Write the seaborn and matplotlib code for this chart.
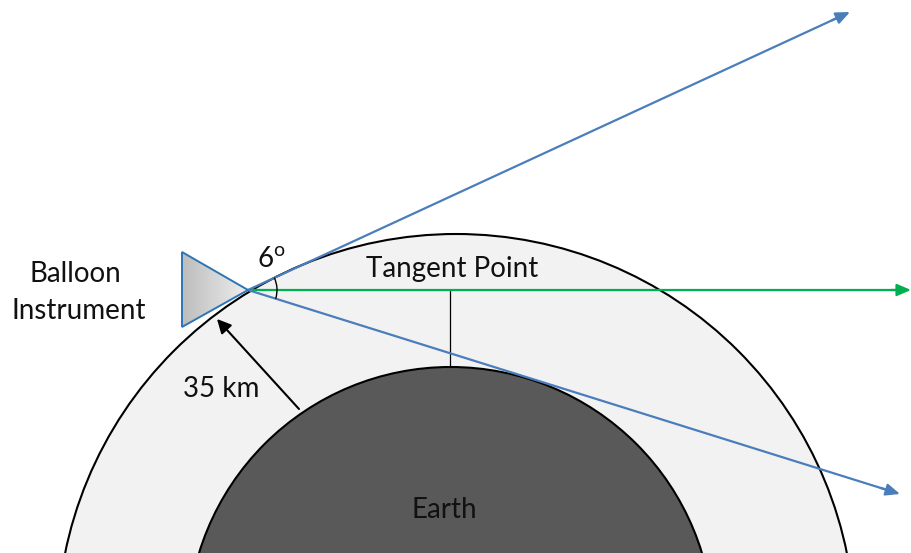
import numpy as np
import pandas as pd
import matplotlib.pyplot as plt
import seaborn as sns
from matplotlib.patches import Circle, Polygon, Arc

# everything in pixels
W, H = 911, 553
APEX = (248, 290)

OUTER_CENTER = (456, 633)
OUTER_RADIUS = 399
EARTH_CENTER = (450.5, 630)
EARTH_RADIUS = 263

TRIANGLE_X = [182, 182, 248]
TRIANGLE_Y = [252, 327, 290]

RAY_NAMES = ["upper", "middle", "lower"]
RAY_END_X = [850, 911, 900]
RAY_END_Y = [12, 290, 494]
RAY_COLORS = {"upper": "#4A7EBB", "middle": "#00B050", "lower": "#4A7EBB"}

TANGENT_X = [450, 450]
TANGENT_Y = [290, 367]
ARROW_START = (299, 409)
ARROW_END = (217, 319)

LABELS = ["Balloon", "Instrument", "6$^{\\mathrm{o}}$", "Tangent Point", "35 km", "Earth"]
LABEL_X = [75, 79, 271, 452, 221, 444]
LABEL_Y = [282, 319, 268, 277, 397, 518]
LABEL_SIZE = 20

sns.set_theme(style="white")
plt.rcParams["font.family"] = ["Lato", "DejaVu Sans"]
plt.rcParams["mathtext.fontset"] = "custom"
plt.rcParams["mathtext.rm"] = "Lato"

fig = plt.figure(figsize=(W / 100, H / 100), dpi=100)
ax = fig.add_axes([0, 0, 1, 1])

ax.add_patch(Circle(OUTER_CENTER, OUTER_RADIUS, fc="#F2F2F2", ec="black", lw=1.5, zorder=1))
ax.add_patch(Circle(EARTH_CENTER, EARTH_RADIUS, fc="#595959", ec="black", lw=1.5, zorder=2))

# rays
rows = []
for name, x, y in zip(RAY_NAMES, RAY_END_X, RAY_END_Y):
    rows.append({"ray": name, "x": APEX[0], "y": APEX[1]})
    rows.append({"ray": name, "x": x - (x - APEX[0]) * 0.012, "y": y - (y - APEX[1]) * 0.012})
rays = pd.DataFrame(rows)
sns.lineplot(data=rays, x="x", y="y", hue="ray", palette=RAY_COLORS, units="ray",
             estimator=None, sort=False, lw=1.6, legend=False, ax=ax, zorder=4)
for name, x, y in zip(RAY_NAMES, RAY_END_X, RAY_END_Y):
    start = (x - (x - APEX[0]) * 0.03, y - (y - APEX[1]) * 0.03)
    ax.annotate("", xy=(x, y), xytext=start, zorder=4,
                arrowprops=dict(arrowstyle="-|>,head_length=0.7,head_width=0.3",
                                color=RAY_COLORS[name], lw=1.6, shrinkA=0, shrinkB=0))

sns.lineplot(x=TANGENT_X, y=TANGENT_Y, color="black", lw=0.9, ax=ax, zorder=3,
             estimator=None, sort=False)

# 35 km arrow
ax.annotate("", xy=ARROW_END, xytext=ARROW_START, zorder=5,
            arrowprops=dict(arrowstyle="-|>,head_length=0.7,head_width=0.35",
                            color="black", lw=1.5, shrinkA=0, shrinkB=0))

# 6 degree arc (y axis is flipped, so the upper ray has the negative angle)
ax.add_patch(Arc(APEX, 58, 58, theta1=-25, theta2=17.5, ec="black", lw=1.0, zorder=5))

# instrument triangle with grey gradient
tri = Polygon(np.column_stack([TRIANGLE_X, TRIANGLE_Y]), fc="none", ec="#2E75B6", lw=1.4, zorder=7)
grad = ax.imshow(np.linspace(0.74, 0.93, 64).reshape(1, -1), cmap="gray", vmin=0, vmax=1,
                 extent=[182, 248, 327, 252], aspect="auto", zorder=6)
ax.add_patch(tri)
grad.set_clip_path(tri)

for text, x, y in zip(LABELS, LABEL_X, LABEL_Y):
    ax.text(x, y, text, ha="center", va="baseline", fontsize=LABEL_SIZE, color="#111111", zorder=8)

ax.set_xlim(0, W)
ax.set_ylim(H, 0)
ax.axis("off")
fig.savefig("out.png", dpi=100)
